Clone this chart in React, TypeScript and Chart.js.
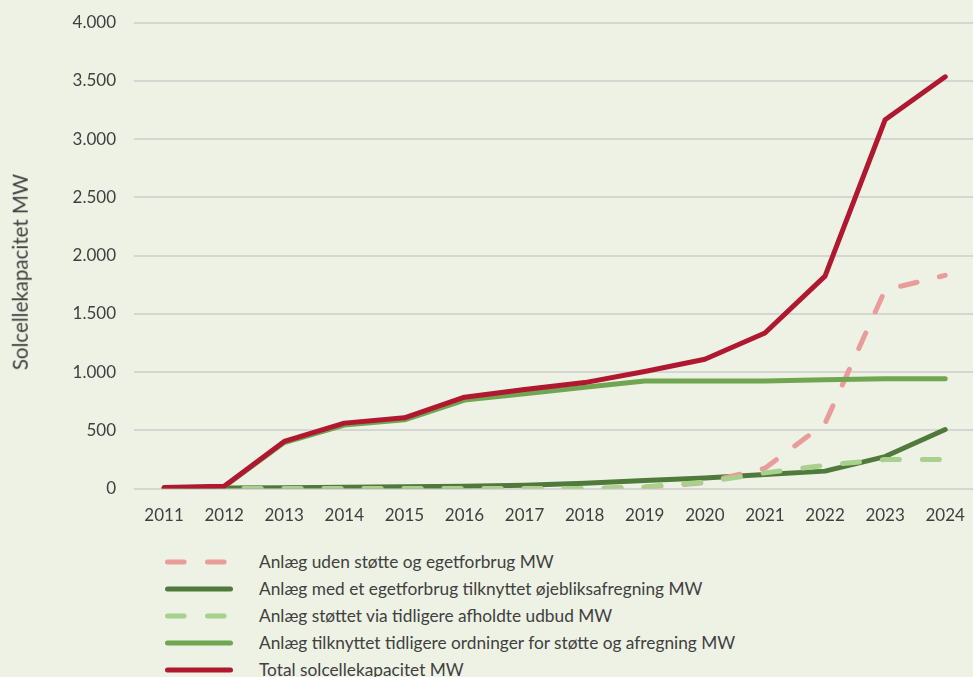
import React, { useEffect, useRef } from "react";
import { Chart, registerables } from "chart.js";

Chart.register(...registerables);

const years = ["2011", "2012", "2013", "2014", "2015", "2016", "2017", "2018", "2019", "2020", "2021", "2022", "2023", "2024"];
const udenStotte = [0, 0, 0, 0, 0, 0, 0, 0, 10, 50, 175, 560, 1705, 1830];
const ojebliksafregning = [0, 5, 8, 12, 15, 20, 28, 45, 70, 90, 120, 150, 275, 507];
const udbud = [0, 0, 0, 0, 0, 0, 0, 0, 15, 55, 135, 200, 250, 250];
const tidligereOrdninger = [5, 15, 395, 545, 590, 760, 815, 870, 923, 923, 923, 935, 942, 942];
const total = [10, 20, 405, 562, 608, 785, 850, 910, 1005, 1110, 1336, 1824, 3166, 3535];

const seriesNames = [
  "Anlæg uden støtte og egetforbrug MW",
  "Anlæg med et egetforbrug tilknyttet øjebliksafregning MW",
  "Anlæg støttet via tidligere afholdte udbud MW",
  "Anlæg tilknyttet tidligere ordninger for støtte og afregning MW",
  "Total solcellekapacitet MW",
];
const yTitle = "Solcellekapacitet MW";

const C_PINK = "#EA9C9A";
const C_DARK = "#4F7A3B";
const C_LIGHT = "#A9D18E";
const C_MID = "#70A651";
const C_RED = "#B0182F";
const BG = "#EDF2E4";
const TXT = "#404040";
const FONT = "Lato, 'Open Sans', sans-serif";

const legendItems = [
  { label: seriesNames[0], color: C_PINK, dashed: true },
  { label: seriesNames[1], color: C_DARK, dashed: false },
  { label: seriesNames[2], color: C_LIGHT, dashed: true },
  { label: seriesNames[3], color: C_MID, dashed: false },
  { label: seriesNames[4], color: C_RED, dashed: false },
];

function fmt(v: number): string {
  return String(v).replace(/\B(?=(\d{3})+(?!\d))/g, ".");
}

export default function App() {
  const ref = useRef<HTMLCanvasElement | null>(null);

  useEffect(() => {
    document.body.style.margin = "0";
    const canvas = ref.current;
    if (!canvas) return;
    const common = {
      pointRadius: 0,
      pointHoverRadius: 0,
      tension: 0,
      borderWidth: 5,
      fill: false,
      borderCapStyle: "round" as const,
      borderJoinStyle: "round" as const,
    };
    const chart = new Chart(canvas, {
      type: "line",
      data: {
        labels: years,
        datasets: [
          { ...common, label: seriesNames[0], data: udenStotte, borderColor: C_PINK, backgroundColor: C_PINK, borderDash: [17, 23], order: 3 },
          { ...common, label: seriesNames[1], data: ojebliksafregning, borderColor: C_DARK, backgroundColor: C_DARK, order: 4 },
          { ...common, label: seriesNames[2], data: udbud, borderColor: C_LIGHT, backgroundColor: C_LIGHT, borderDash: [17, 23], order: 2 },
          { ...common, label: seriesNames[3], data: tidligereOrdninger, borderColor: C_MID, backgroundColor: C_MID, order: 1 },
          { ...common, label: seriesNames[4], data: total, borderColor: C_RED, backgroundColor: C_RED, order: 0 },
        ],
      },
      options: {
        responsive: false,
        animation: false,
        devicePixelRatio: 1,
        layout: { padding: { top: 22.6, right: 2, left: 0, bottom: 0 } },
        plugins: {
          legend: { display: false },
          tooltip: { enabled: false },
        },
        scales: {
          x: {
            offset: true,
            grid: { display: false, drawTicks: false },
            border: { display: false },
            ticks: { color: TXT, font: { family: FONT, size: 17 }, padding: 17, maxRotation: 0, autoSkip: false },
          },
          y: {
            min: 0,
            max: 4000,
            grid: { color: "#D4D7D1", lineWidth: 2, drawTicks: false },
            border: { display: false },
            ticks: {
              stepSize: 500,
              color: TXT,
              font: { family: FONT, size: 17 },
              padding: 18,
              callback: (v: any) => fmt(Number(v)),
            },
            title: { display: false },
            afterFit: (scale: any) => {
              scale.width = 134;
              scale.paddingTop = 0;
              scale.paddingBottom = 0;
            },
          },
        },
      },
    });
    return () => chart.destroy();
  }, []);

  return (
    <div style={{ width: 973, height: 677, position: "relative", overflow: "hidden", background: BG, fontFamily: FONT }}>
      <canvas ref={ref} width={982} height={543} style={{ position: "absolute", left: 0, top: 0 }} />
      <div
        style={{
          position: "absolute",
          left: 20,
          top: 272,
          transform: "translate(-50%, -50%) rotate(-90deg)",
          fontSize: 20.5,
          color: TXT,
          whiteSpace: "nowrap",
          lineHeight: 1,
        }}
      >
        {yTitle}
      </div>
      <div style={{ position: "absolute", left: 162, top: 548.5 }}>
        {legendItems.map((it) => (
          <div key={it.label} style={{ display: "flex", alignItems: "center", height: 26.9 }}>
            <svg width={72} height={10} style={{ display: "block" }}>
              <line
                x1={5.5}
                y1={5}
                x2={68.5}
                y2={5}
                stroke={it.color}
                strokeWidth={5}
                strokeLinecap="round"
                strokeDasharray={it.dashed ? "16.6 23.4" : undefined}
              />
            </svg>
            <span style={{ marginLeft: 25, fontSize: 17.3, color: TXT, whiteSpace: "nowrap" }}>{it.label}</span>
          </div>
        ))}
      </div>
    </div>
  );
}
